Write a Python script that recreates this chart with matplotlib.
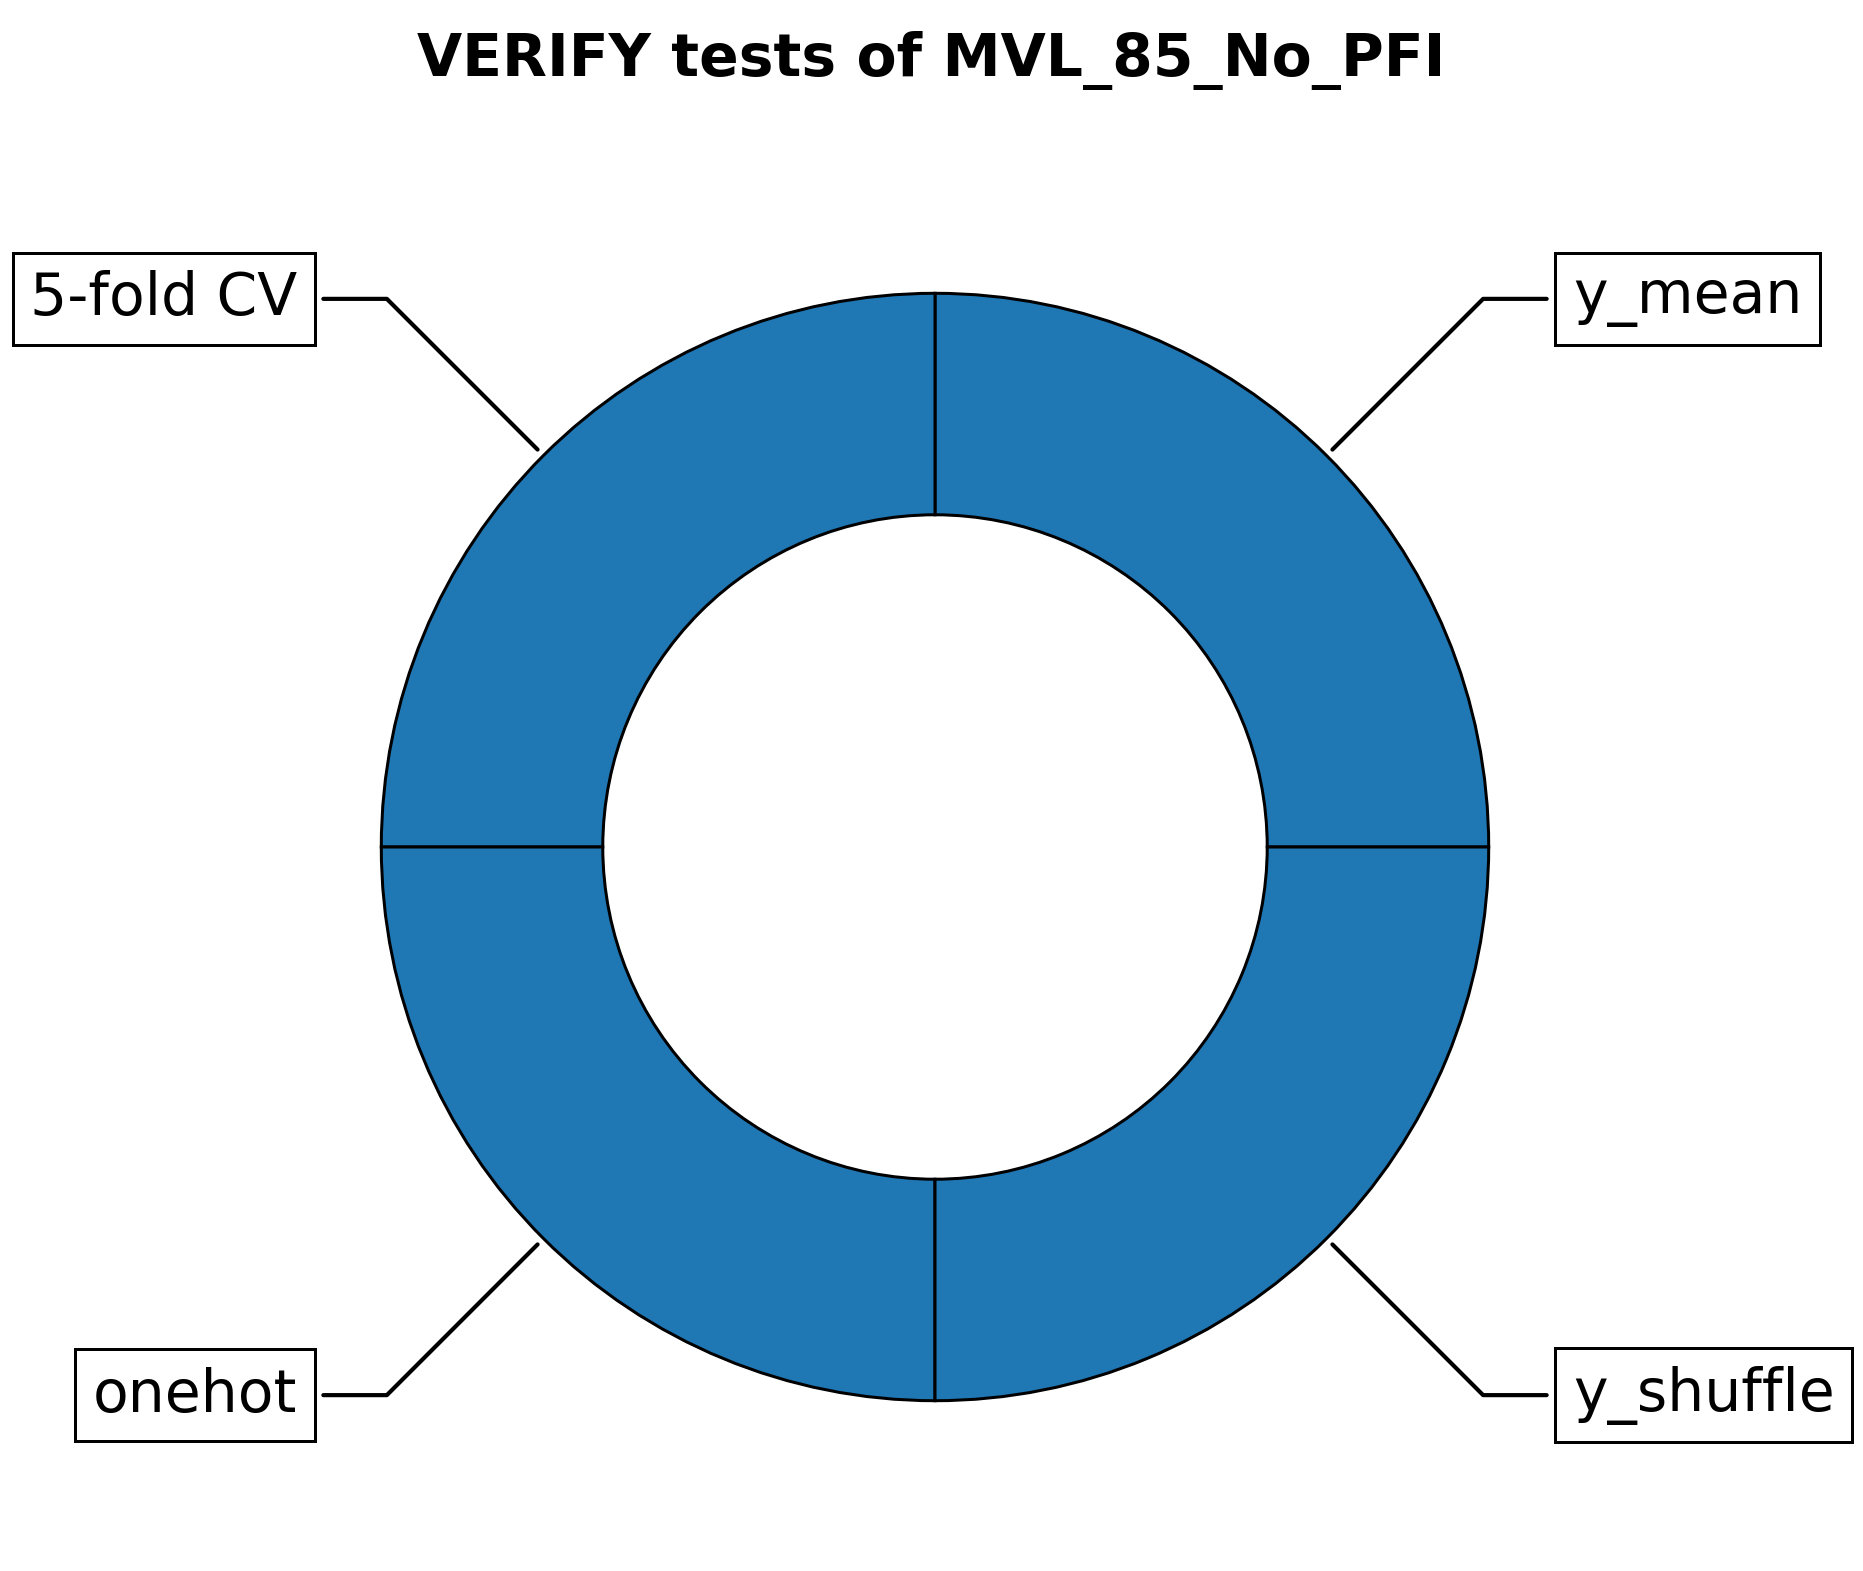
import numpy as np
import matplotlib
matplotlib.use("Agg")
import matplotlib.pyplot as plt

# Dữ liệu
labels = ["y_mean", "5-fold CV", "onehot", "y_shuffle"]
values = [1, 1, 1, 1]
title = "VERIFY tests of MVL_85_No_PFI"

fig = plt.figure(figsize=(1863 / 300, 1571 / 300), dpi=300)
ax = fig.add_axes([0, 0, 1, 1])

wedges, _ = ax.pie(values, startangle=0, counterclock=True,
                   colors=["#1f77b4"] * len(values),
                   wedgeprops=dict(width=0.4, edgecolor="k", linewidth=0.72))

bbox_props = dict(boxstyle="square,pad=0.3", fc="w", ec="k", lw=0.72)
kw = dict(arrowprops=dict(arrowstyle="-", lw=1.0), bbox=bbox_props,
          zorder=0, va="center", fontsize=14)

for i, p in enumerate(wedges):
    ang = (p.theta2 - p.theta1) / 2. + p.theta1
    y = np.sin(np.deg2rad(ang))
    x = np.cos(np.deg2rad(ang))
    ha = {-1: "right", 1: "left"}[int(np.sign(x))]
    kw["arrowprops"].update({"connectionstyle": f"angle,angleA=0,angleB={ang}"})
    ax.annotate(labels[i], xy=(x, y), xytext=(1.152 * np.sign(x), 1.4 * y),
                horizontalalignment=ha, **kw)

# Vị trí trục
r = 553.7
cx, cy = 935, 847
ax.set_aspect("auto")
ax.set_xlim(-cx / r, (1863 - cx) / r)
ax.set_ylim(-(1571 - cy) / r, cy / r)
ax.axis("off")

fig.text(0.5, 1 - 60 / 1571, title, ha="center", va="center",
         fontsize=14, fontweight="bold")

fig.savefig("out.png", dpi=300)
